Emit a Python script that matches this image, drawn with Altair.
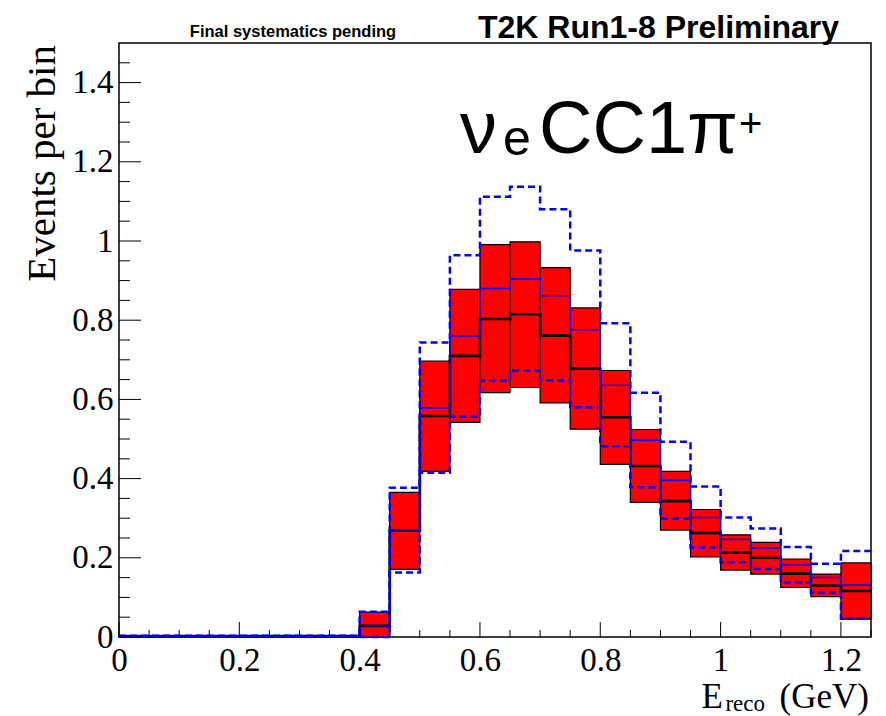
import altair as alt
import pandas as pd

# ---- data (bin lower edges, GeV) ----
bin_lo = [0.00, 0.05, 0.10, 0.15, 0.20, 0.25, 0.30, 0.35, 0.40, 0.45, 0.50, 0.55,
          0.60, 0.65, 0.70, 0.75, 0.80, 0.85, 0.90, 0.95, 1.00, 1.05, 1.10, 1.15, 1.20]
bin_width = 0.05
central = [0.002, 0.002, 0.002, 0.002, 0.002, 0.002, 0.002, 0.002, 0.028, 0.269, 0.558, 0.710,
           0.803, 0.815, 0.761, 0.678, 0.555, 0.432, 0.343, 0.263, 0.213, 0.200, 0.160, 0.130, 0.116]
band_lo = [0.001, 0.001, 0.001, 0.001, 0.001, 0.001, 0.001, 0.001, 0.000, 0.171, 0.418, 0.542,
           0.617, 0.630, 0.591, 0.525, 0.436, 0.340, 0.270, 0.202, 0.169, 0.159, 0.125, 0.102, 0.045]
band_hi = [0.004, 0.004, 0.004, 0.004, 0.004, 0.004, 0.004, 0.004, 0.063, 0.365, 0.697, 0.878,
           0.991, 0.998, 0.933, 0.831, 0.673, 0.524, 0.418, 0.322, 0.258, 0.239, 0.197, 0.159, 0.187]
blue_solid = [0.002, 0.002, 0.002, 0.002, 0.002, 0.002, 0.002, 0.002, 0.029, 0.271, 0.578, 0.760,
              0.880, 0.904, 0.862, 0.776, 0.636, 0.497, 0.396, 0.302, 0.246, 0.225, 0.182, 0.150, 0.131]
dash_hi = [0.003, 0.003, 0.003, 0.003, 0.003, 0.003, 0.003, 0.003, 0.064, 0.377, 0.744, 0.964,
           1.112, 1.137, 1.080, 0.976, 0.792, 0.617, 0.493, 0.380, 0.302, 0.274, 0.227, 0.185, 0.217]
dash_lo = [0.001, 0.001, 0.001, 0.001, 0.001, 0.001, 0.001, 0.001, 0.000, 0.163, 0.415, 0.556,
           0.648, 0.673, 0.648, 0.580, 0.482, 0.378, 0.299, 0.226, 0.189, 0.172, 0.137, 0.112, 0.047]

x_major = [0.0, 0.2, 0.4, 0.6, 0.8, 1.0, 1.2]
x_minor = [0.05, 0.10, 0.15, 0.25, 0.30, 0.35, 0.45, 0.50, 0.55, 0.65, 0.70, 0.75,
           0.85, 0.90, 0.95, 1.05, 1.10, 1.15, 1.25]
y_major = [0.0, 0.2, 0.4, 0.6, 0.8, 1.0, 1.2, 1.4]
y_minor = [0.05, 0.10, 0.15, 0.25, 0.30, 0.35, 0.45, 0.50, 0.55, 0.65, 0.70, 0.75,
           0.85, 0.90, 0.95, 1.05, 1.10, 1.15, 1.25, 1.30, 1.35, 1.45]

W, H = 752, 594
SERIF = "Liberation Serif"
SANS = "Liberation Sans"

bins = pd.DataFrame({
    "lo": bin_lo,
    "hi": [b + bin_width for b in bin_lo],
    "band_lo": band_lo,
    "band_hi": band_hi,
})

# step-line table: each bin's lower edge plus the final upper edge
edges = bin_lo + [bin_lo[-1] + bin_width]
steps = pd.DataFrame({
    "edge": edges,
    "central": central + [central[-1]],
    "blue": blue_solid + [blue_solid[-1]],
    "dhi": dash_hi + [dash_hi[-1]],
    "dlo": dash_lo + [dash_lo[-1]],
})

xs = alt.Scale(domain=[0, 1.25], nice=False, zero=False)
ys = alt.Scale(domain=[0, 1.5], nice=False, zero=False)

x_axis = alt.Axis(values=x_major, format="~g", ticks=False, domain=False, grid=False,
                  labelFont=SERIF, labelFontSize=33, labelColor="black",
                  labelPadding=7, labelFlush=False, labelOverlap=False, title=None)
y_axis = alt.Axis(values=y_major, format="~g", ticks=False, domain=False, grid=False,
                  labelFont=SERIF, labelFontSize=33, labelColor="black",
                  labelPadding=6, labelFlush=False, labelOverlap=False, title=None)

rects = alt.Chart(bins).mark_rect(fill="#ff0000", stroke="black", strokeWidth=1.2).encode(
    x=alt.X("lo:Q", scale=xs, axis=x_axis),
    x2="hi:Q",
    y=alt.Y("band_lo:Q", scale=ys, axis=y_axis),
    y2="band_hi:Q",
)

def step(col, color, width, dash=None):
    kw = dict(interpolate="step-after", color=color, strokeWidth=width)
    if dash:
        kw["strokeDash"] = dash
    return alt.Chart(steps).mark_line(**kw).encode(
        x=alt.X("edge:Q", scale=xs),
        y=alt.Y(f"{col}:Q", scale=ys),
    )

line_central = step("central", "black", 2.6)
line_blue = step("blue", "#0000ff", 1.5)
line_dhi = step("dhi", "#0000ff", 2.5, [7, 4])
line_dlo = step("dlo", "#0000ff", 2.5, [7, 4])

# inward ticks (ROOT style)
def xticks(vals, length):
    return alt.Chart(pd.DataFrame({"t": vals})).mark_rule(color="black", strokeWidth=1).encode(
        x=alt.X("t:Q", scale=xs), y=alt.value(H), y2=alt.value(H - length))

def yticks(vals, length):
    return alt.Chart(pd.DataFrame({"t": vals})).mark_rule(color="black", strokeWidth=1).encode(
        y=alt.Y("t:Q", scale=ys), x=alt.value(0), x2=alt.value(length))

one = alt.Data(values=[{"k": 1}])

def label(text, x, y, size, font, align="left", weight="normal", angle=0, baseline="alphabetic"):
    kw = dict(text=text, x=x, y=y, fontSize=size, font=font, align=align,
              fontWeight=weight, baseline=baseline, color="black")
    if angle:
        kw["angle"] = angle
    return alt.Chart(one).mark_text(**kw)

texts = [
    label("Final systematics pending", 174, -6, 16.5, SANS, align="center", weight="bold"),
    label("T2K Run1-8 Preliminary", 359, -5, 32, SANS, weight="bold"),
    label("ν", 341, 110, 74, SANS),
    label("e", 384, 112, 50, SANS),
    label("CC1π", 420, 110, 74, SANS),
    label("+", 620, 94, 40, SANS),
    label("Events per bin", -64, 2, 41, SERIF, align="right", angle=270),
    label("(GeV)", 750, 665, 35, SERIF, align="right"),
    label("reco", 646, 668, 23, SERIF, align="right"),
    label("E", 604, 665, 35, SERIF, align="right"),
]

chart = alt.layer(
    rects, line_central, line_blue, line_dhi, line_dlo,
    xticks(x_major, 15), xticks(x_minor, 7),
    yticks(y_major, 22), yticks(y_minor, 11),
    *texts,
).properties(
    width=W, height=H,
    padding={"left": 119, "top": 43, "right": 15, "bottom": 79},
    autosize=alt.AutoSizeParams(type="none"),
).configure_view(stroke="black", strokeWidth=1.5)

chart.save("out.html", embed_options={"renderer": "svg", "actions": False})
